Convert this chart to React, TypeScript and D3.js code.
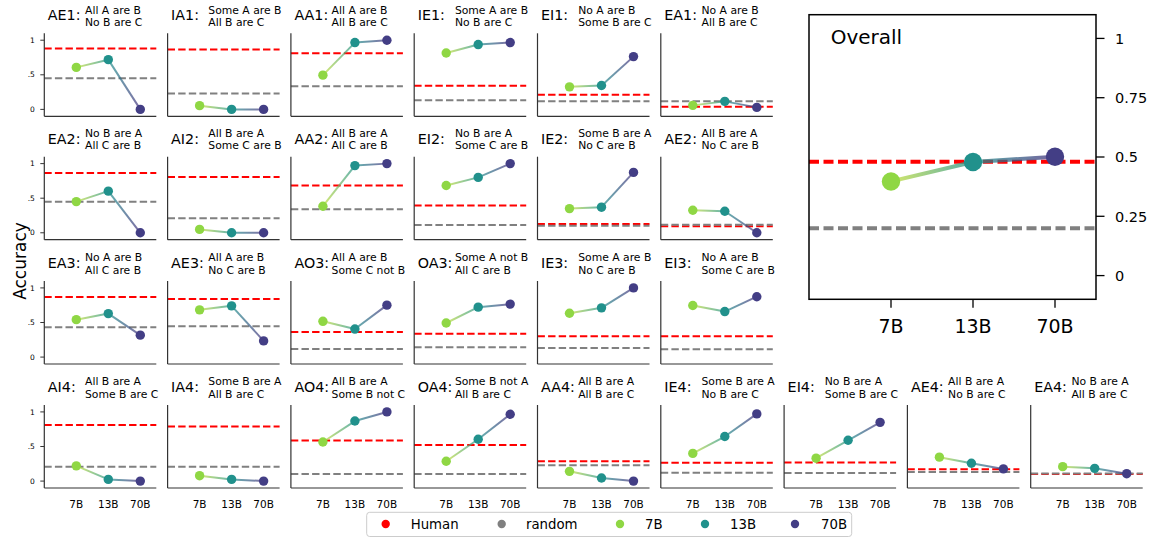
import React from "react";
import * as d3 from "d3";

const MODELS = ["7B", "13B", "70B"];
const MODEL_COLORS = ["#8fd744", "#21918c", "#433e85"];
const GRAD_STOPS = [["#c5e03a", "#21918c"], ["#21918c", "#46307e"]];

const ROW_SIZES = [6, 6, 6, 9];
const PANEL_NAMES = [
  "AE1", "IA1", "AA1", "IE1", "EI1", "EA1",
  "EA2", "AI2", "AA2", "EI2", "IE2", "AE2",
  "EA3", "AE3", "AO3", "OA3", "IE3", "EI3",
  "AI4", "IA4", "AO4", "OA4", "AA4", "IE4", "EI4", "AE4", "EA4",
];
const PREMISE_1 = [
  "All A are B", "Some A are B", "All A are B", "Some A are B", "No A are B", "No A are B",
  "No B are A", "All B are A", "All B are A", "No B are A", "Some B are A", "All B are A",
  "No A are B", "All A are B", "All A are B", "Some A not B", "Some A are B", "No A are B",
  "All B are A", "Some B are A", "All B are A", "Some B not A", "All B are A", "Some B are A", "No B are A", "All B are A", "No B are A",
];
const PREMISE_2 = [
  "No B are C", "All B are C", "All B are C", "No B are C", "Some B are C", "All B are C",
  "All C are B", "Some C are B", "All C are B", "Some C are B", "No C are B", "No C are B",
  "All C are B", "No C are B", "Some C not B", "All C are B", "No C are B", "Some C are B",
  "Some B are C", "All B are C", "Some B not C", "All B are C", "All B are C", "No B are C", "Some B are C", "No B are C", "All B are C",
];
const HUMAN = [
  0.88, 0.865, 0.81, 0.34, 0.21, 0.039,
  0.865, 0.806, 0.684, 0.393, 0.127, 0.093,
  0.868, 0.839, 0.361, 0.336, 0.303, 0.303,
  0.81, 0.79, 0.586, 0.521, 0.287, 0.264, 0.268, 0.17, 0.102,
];
const RANDOM = [
  0.451, 0.229, 0.335, 0.131, 0.116, 0.116,
  0.447, 0.209, 0.34, 0.112, 0.102, 0.117,
  0.43, 0.444, 0.117, 0.142, 0.132, 0.113,
  0.209, 0.209, 0.102, 0.102, 0.228, 0.122, 0.117, 0.132, 0.111,
];
const ACC_7B = [
  0.607, 0.054, 0.495, 0.815, 0.326, 0.058,
  0.451, 0.049, 0.384, 0.684, 0.35, 0.326,
  0.541, 0.683, 0.517, 0.493, 0.634, 0.746,
  0.22, 0.078, 0.565, 0.287, 0.141, 0.4, 0.331, 0.346, 0.209,
];
const ACC_13B = [
  0.719, 0.0, 0.966, 0.937, 0.345, 0.116,
  0.602, 0.0, 0.971, 0.801, 0.37, 0.311,
  0.629, 0.741, 0.405, 0.722, 0.712, 0.658,
  0.024, 0.024, 0.868, 0.605, 0.044, 0.644, 0.59, 0.258, 0.184,
];
const ACC_70B = [
  0.0, 0.0, 1.0, 0.966, 0.763, 0.029,
  0.0, 0.0, 1.0, 1.0, 0.873, 0.0,
  0.317, 0.234, 0.751, 0.766, 1.0, 0.873,
  0.0, 0.0, 1.0, 0.966, 0.0, 0.971, 0.849, 0.176, 0.107,
];
const Y_TICKS = [0, 0.5, 1];
const Y_TICK_LABELS = ["0", ".5", "1"];

const OVERALL_HUMAN = 0.48;
const OVERALL_RANDOM = 0.2;
const OVERALL_ACC = [0.397, 0.479, 0.501];
const OVERALL_TICKS = [0, 0.25, 0.5, 0.75, 1];
const OVERALL_TICK_LABELS = ["0", "0.25", "0.5", "0.75", "1"];

const LEGEND_LABELS = ["Human", "random", "7B", "13B", "70B"];
const LEGEND_COLORS = ["#ff0000", "#808080", ...MODEL_COLORS];

const FONT = "DejaVu Sans, sans-serif";
const SPINE = "#333333";

function Panel({ idx, col, row, showY, showX }) {
  const x0 = 44.3 + col * 123.3;
  const w = 112;
  const tops = [33.3, 156.7, 281, 405];
  const top = tops[row];
  const h = 83;
  const x = d3.scaleLinear().domain([-1, 2.5]).range([x0, x0 + w]);
  const y = d3.scaleLinear().domain([-0.1, 1.1]).range([top + h, top]);
  const vals = [ACC_7B[idx], ACC_13B[idx], ACC_70B[idx]];
  const pts = vals.map((v, i) => [x(i), y(v)]);
  return (
    <g>
      <text x={x0 + 3.5} y={top - 13} fontSize={14.3} fontFamily={FONT} fill="#000">
        {PANEL_NAMES[idx] + ":"}
      </text>
      <text x={x0 + 40.7} y={top - 19.6} fontSize={10.8} fontFamily={FONT} fill="#000">
        {PREMISE_1[idx]}
      </text>
      <text x={x0 + 40.7} y={top - 7.3} fontSize={10.8} fontFamily={FONT} fill="#000">
        {PREMISE_2[idx]}
      </text>
      <line x1={x0} x2={x0 + w} y1={y(HUMAN[idx])} y2={y(HUMAN[idx])} stroke="#ff0000" strokeWidth={2} strokeDasharray="7.4,3.2" />
      <line x1={x0} x2={x0 + w} y1={y(RANDOM[idx])} y2={y(RANDOM[idx])} stroke="#808080" strokeWidth={2} strokeDasharray="7.4,3.2" />
      {[0, 1].map((s) => (
        <g key={s}>
          <defs>
            <linearGradient id={`g${idx}_${s}`} gradientUnits="userSpaceOnUse" x1={pts[s][0]} y1={pts[s][1]} x2={pts[s + 1][0]} y2={pts[s + 1][1] + 0.01}>
              <stop offset="0" stopColor={GRAD_STOPS[s][0]} />
              <stop offset="1" stopColor={GRAD_STOPS[s][1]} />
            </linearGradient>
          </defs>
          <line x1={pts[s][0]} y1={pts[s][1]} x2={pts[s + 1][0]} y2={pts[s + 1][1] + 0.01} stroke={`url(#g${idx}_${s})`} strokeWidth={2} strokeOpacity={0.7} />
        </g>
      ))}
      {pts.map((p, i) => (
        <circle key={i} cx={p[0]} cy={p[1]} r={4.7} fill={MODEL_COLORS[i]} />
      ))}
      <line x1={x0} x2={x0} y1={top} y2={top + h} stroke={SPINE} strokeWidth={1.2} />
      <line x1={x0} x2={x0 + w} y1={top + h} y2={top + h} stroke={SPINE} strokeWidth={1.2} />
      {showY &&
        Y_TICKS.map((t, i) => (
          <g key={i}>
            <line x1={x0 - 4} x2={x0} y1={y(t)} y2={y(t)} stroke={SPINE} strokeWidth={1} />
            <text x={x0 - 9.5} y={y(t)} dy="0.35em" textAnchor="end" fontSize={7.5} fontFamily={FONT} fill="#000">
              {Y_TICK_LABELS[i]}
            </text>
          </g>
        ))}
      {showX &&
        MODELS.map((m, i) => (
          <text key={m} x={x(i)} y={top + h + 19.5} textAnchor="middle" fontSize={10.5} fontFamily={FONT} fill="#000">
            {m}
          </text>
        ))}
    </g>
  );
}

function Overall() {
  const L = 809, T = 14.7, R = 1096, B = 299.3;
  const x = d3.scaleLinear().domain([-1, 2.5]).range([L, R]);
  const y = d3.scaleLinear().domain([-0.1, 1.1]).range([B, T]);
  const pts = OVERALL_ACC.map((v, i) => [x(i), y(v)]);
  return (
    <g>
      <line x1={L} x2={R} y1={y(OVERALL_HUMAN)} y2={y(OVERALL_HUMAN)} stroke="#ff0000" strokeWidth={4} strokeDasharray="10,4.5" />
      <line x1={L} x2={R} y1={y(OVERALL_RANDOM)} y2={y(OVERALL_RANDOM)} stroke="#808080" strokeWidth={4} strokeDasharray="10,4.5" />
      {[0, 1].map((s) => (
        <g key={s}>
          <defs>
            <linearGradient id={`go_${s}`} gradientUnits="userSpaceOnUse" x1={pts[s][0]} y1={pts[s][1]} x2={pts[s + 1][0]} y2={pts[s + 1][1] + 0.01}>
              <stop offset="0" stopColor={GRAD_STOPS[s][0]} />
              <stop offset="1" stopColor={GRAD_STOPS[s][1]} />
            </linearGradient>
          </defs>
          <line x1={pts[s][0]} y1={pts[s][1]} x2={pts[s + 1][0]} y2={pts[s + 1][1] + 0.01} stroke={`url(#go_${s})`} strokeWidth={4} strokeOpacity={0.75} />
        </g>
      ))}
      {pts.map((p, i) => (
        <circle key={i} cx={p[0]} cy={p[1]} r={9.2} fill={MODEL_COLORS[i]} />
      ))}
      <rect x={L} y={T} width={R - L} height={B - T} fill="none" stroke="#000" strokeWidth={1.5} />
      <text x={830.7} y={44} fontSize={20} fontFamily={FONT} fill="#000">Overall</text>
      {OVERALL_TICKS.map((t, i) => (
        <g key={i}>
          <line x1={R} x2={R + 8.5} y1={y(t)} y2={y(t)} stroke="#000" strokeWidth={1.3} />
          <text x={R + 19} y={y(t)} dy="0.36em" fontSize={14.5} fontFamily={FONT} fill="#000">
            {OVERALL_TICK_LABELS[i]}
          </text>
        </g>
      ))}
      {MODELS.map((m, i) => (
        <g key={m}>
          <line x1={x(i)} x2={x(i)} y1={B} y2={B + 8.5} stroke="#000" strokeWidth={1.3} />
          <text x={x(i)} y={B + 34} textAnchor="middle" fontSize={19} fontFamily={FONT} fill="#000">
            {m}
          </text>
        </g>
      ))}
    </g>
  );
}

function Legend() {
  const dotX = [385.7, 501.7, 620, 705, 795];
  const textX = [410.7, 526, 645, 730, 821];
  return (
    <g>
      <rect x={366.7} y={512.3} width={485} height={24.2} rx={3} fill="#fff" stroke="#cccccc" strokeWidth={1} />
      {LEGEND_LABELS.map((l, i) => (
        <g key={l}>
          <circle cx={dotX[i]} cy={524} r={4.2} fill={LEGEND_COLORS[i]} />
          <text x={textX[i]} y={524} dy="0.36em" fontSize={13.3} fontFamily={FONT} fill="#000">
            {l}
          </text>
        </g>
      ))}
    </g>
  );
}

export default function App() {
  const panels = [];
  let idx = 0;
  ROW_SIZES.forEach((n, row) => {
    for (let col = 0; col < n; col++) {
      panels.push(
        <Panel key={idx} idx={idx} col={col} row={row} showY={col === 0} showX={row === 3} />
      );
      idx++;
    }
  });
  return (
    <svg width={1152} height={537} style={{ position: "absolute", left: 0, top: 0, background: "#fff" }}>
      <rect x={0} y={0} width={1152} height={537} fill="#fff" />
      {panels}
      <Overall />
      <text transform="translate(25.5,261) rotate(-90)" textAnchor="middle" fontSize={17} fontFamily={FONT} fill="#000">
        Accuracy
      </text>
      <Legend />
    </svg>
  );
}
